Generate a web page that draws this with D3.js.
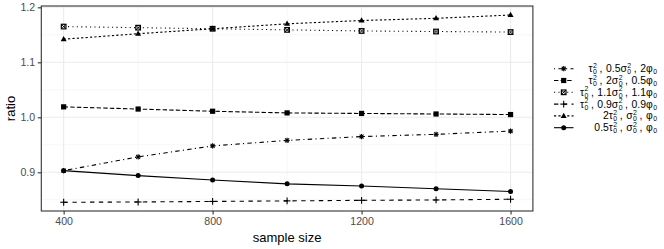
<!DOCTYPE html>
<html><head><meta charset="utf-8">
<script src="https://cdn.jsdelivr.net/npm/d3@7"></script>
<style>body{margin:0;background:#fff}svg{display:block}text{font-family:"Liberation Sans",Arial,sans-serif}</style>
</head><body><svg id="c" width="664" height="249"></svg>
<script>
const sampleSizes = [400, 600, 800, 1000, 1200, 1400, 1600];
const xTicks = [400, 800, 1200, 1600];
const xTickLabels = ["400", "800", "1200", "1600"];
const xMinor = [600, 1000, 1400];
const yTicks = [0.9, 1.0, 1.1, 1.2];
const yMinor = [0.85, 0.95, 1.05, 1.15];
const yTickLabels = ["0.9", "1.0", "1.1", "1.2"];
const s1 = [0.903, 0.928, 0.948, 0.958, 0.965, 0.969, 0.975]; // tau, 0.5 sigma, 2 phi
const s2 = [1.019, 1.015, 1.011, 1.008, 1.007, 1.006, 1.005]; // tau, 2 sigma, 0.5 phi
const s3 = [1.165, 1.163, 1.161, 1.159, 1.157, 1.156, 1.155]; // tau, 1.1 sigma, 1.1 phi
const s4 = [0.8455, 0.846, 0.847, 0.848, 0.849, 0.8497, 0.851]; // tau, 0.9 sigma, 0.9 phi
const s5 = [1.142, 1.152, 1.161, 1.170, 1.176, 1.180, 1.186]; // 2 tau, sigma, phi
const s6 = [0.903, 0.894, 0.886, 0.879, 0.875, 0.870, 0.865]; // 0.5 tau, sigma, phi
// legend labels: [coefficient, symbol, has superscript 2]
const labels = [
  [["", "τ", true], ["0.5", "σ", true], ["2", "φ", false]],
  [["", "τ", true], ["2", "σ", true], ["0.5", "φ", false]],
  [["", "τ", true], ["1.1", "σ", true], ["1.1", "φ", false]],
  [["", "τ", true], ["0.9", "σ", true], ["0.9", "φ", false]],
  [["2", "τ", true], ["", "σ", true], ["", "φ", false]],
  [["0.5", "τ", true], ["", "σ", true], ["", "φ", false]]
];
const shapes = ["asterisk", "square", "boxx", "plus", "triangle", "circle"];
const dashes = ["1.1 3.3 4.4 3.3", "4.4 2.2", "1.1 3.3", "4.4 4.4", "2.2 2.2", null];
const seriesList = [s1, s2, s3, s4, s5, s6];

const svg = d3.select("#c");
const L = 41.3, R = 532.9, T = 6, B = 211;
const x = d3.scaleLinear().domain([340, 1660]).range([L, R]);
const y = d3.scaleLinear().domain([0.8296, 1.2024]).range([B, T]);

svg.append("rect").attr("x", L).attr("y", T).attr("width", R - L).attr("height", B - T).attr("fill", "#fff");
const g = svg.append("g");
yMinor.forEach(v => g.append("line").attr("x1", L).attr("x2", R).attr("y1", y(v)).attr("y2", y(v)).attr("stroke", "#f2f2f2").attr("stroke-width", 0.6));
xMinor.forEach(v => g.append("line").attr("y1", T).attr("y2", B).attr("x1", x(v)).attr("x2", x(v)).attr("stroke", "#f2f2f2").attr("stroke-width", 0.6));
yTicks.forEach(v => g.append("line").attr("x1", L).attr("x2", R).attr("y1", y(v)).attr("y2", y(v)).attr("stroke", "#ebebeb").attr("stroke-width", 1.1));
xTicks.forEach(v => g.append("line").attr("y1", T).attr("y2", B).attr("x1", x(v)).attr("x2", x(v)).attr("stroke", "#ebebeb").attr("stroke-width", 1.1));

function drawShape(sel, shape, cx, cy) {
  const k = sel.append("g").attr("transform", `translate(${cx},${cy})`);
  const r = 2.6;
  if (shape === "asterisk") {
    [[-r, 0, r, 0], [0, -r, 0, r], [-r*0.75, -r*0.75, r*0.75, r*0.75], [-r*0.75, r*0.75, r*0.75, -r*0.75]].forEach(a =>
      k.append("line").attr("x1", a[0]).attr("y1", a[1]).attr("x2", a[2]).attr("y2", a[3]).attr("stroke", "#000").attr("stroke-width", 1.1));
  } else if (shape === "square") {
    k.append("rect").attr("x", -2.6).attr("y", -2.6).attr("width", 5.2).attr("height", 5.2).attr("fill", "#000");
  } else if (shape === "boxx") {
    k.append("rect").attr("x", -2.3).attr("y", -2.3).attr("width", 4.6).attr("height", 4.6).attr("fill", "none").attr("stroke", "#000").attr("stroke-width", 1.2);
    [[-2.3, -2.3, 2.3, 2.3], [-2.3, 2.3, 2.3, -2.3]].forEach(a =>
      k.append("line").attr("x1", a[0]).attr("y1", a[1]).attr("x2", a[2]).attr("y2", a[3]).attr("stroke", "#000").attr("stroke-width", 0.9));
  } else if (shape === "plus") {
    [[-3.4, 0, 3.4, 0], [0, -3.4, 0, 3.4]].forEach(a =>
      k.append("line").attr("x1", a[0]).attr("y1", a[1]).attr("x2", a[2]).attr("y2", a[3]).attr("stroke", "#000").attr("stroke-width", 1.1));
  } else if (shape === "triangle") {
    k.append("path").attr("d", "M0,-3.2L3,2L-3,2Z").attr("fill", "#000");
  } else {
    k.append("circle").attr("r", 2.5).attr("fill", "#000");
  }
}

const line = d3.line().x((d, i) => x(sampleSizes[i])).y(d => y(d));
seriesList.forEach((s, i) => {
  const p = g.append("path").attr("d", line(s)).attr("fill", "none").attr("stroke", "#000").attr("stroke-width", 1.1);
  if (dashes[i]) p.attr("stroke-dasharray", dashes[i]);
});
seriesList.forEach((s, i) => s.forEach((v, j) => drawShape(g, shapes[i], x(sampleSizes[j]), y(v))));

svg.append("rect").attr("x", L).attr("y", T).attr("width", R - L).attr("height", B - T).attr("fill", "none").attr("stroke", "#333").attr("stroke-width", 1.1);

// axes
const xa = svg.append("g").attr("transform", `translate(0,${B})`).call(d3.axisBottom(x).tickValues(xTicks).tickFormat((d, i) => xTickLabels[i]).tickSize(3.6).tickPadding(2.5));
const ya = svg.append("g").attr("transform", `translate(${L},0)`).call(d3.axisLeft(y).tickValues(yTicks).tickFormat((d, i) => yTickLabels[i]).tickSize(3.6).tickPadding(2.5));
[xa, ya].forEach(a => {
  a.select(".domain").remove();
  a.selectAll(".tick line").attr("stroke", "#333").attr("stroke-width", 1.1);
  a.selectAll(".tick text").attr("fill", "#4d4d4d").style("font-size", "10.6px").style("font-family", "Liberation Sans, Arial, sans-serif");
});

svg.append("text").attr("x", (L + R) / 2).attr("y", 242).attr("text-anchor", "middle").style("font-size", "13px").text("sample size");
svg.append("text").attr("transform", `translate(15,${(T + B) / 2}) rotate(-90)`).attr("text-anchor", "middle").style("font-size", "13px").text("ratio");

// legend
const legY0 = 68.7, legDy = 11.8;
const lg = svg.append("g");
const mainFs = 10.4, smallFs = 6.9;
seriesList.forEach((s, i) => {
  const cy = legY0 + i * legDy;
  const p = lg.append("line").attr("x1", 554).attr("x2", 573.5).attr("y1", cy).attr("y2", cy).attr("stroke", "#000").attr("stroke-width", 1.1);
  if (dashes[i]) p.attr("stroke-dasharray", dashes[i]);
  drawShape(lg, shapes[i], 563.7, cy);
  const grp = lg.append("g");
  const base = cy + 3.5;
  let cx = 0;
  labels[i].forEach((part, k) => {
    const t = grp.append("text").attr("x", cx).attr("y", base).style("font-size", mainFs + "px").text(part[0] + part[1]);
    cx += t.node().getComputedTextLength() + 0.4;
    const sub = grp.append("text").attr("x", cx).attr("y", base + 1.9).style("font-size", smallFs + "px").text("0");
    let w = sub.node().getComputedTextLength();
    if (part[2]) {
      const sup = grp.append("text").attr("x", cx).attr("y", base - 4.4).style("font-size", smallFs + "px").text("2");
      w = Math.max(w, sup.node().getComputedTextLength());
    }
    cx += w;
    if (k < 2) {
      const c = grp.append("text").attr("x", cx + 2.6).attr("y", base).style("font-size", mainFs + "px").text(",");
      cx += 2.6 + c.node().getComputedTextLength() + 3.6;
    }
  });
  grp.attr("transform", `translate(${657 - cx},0)`);
});
</script></body></html>
